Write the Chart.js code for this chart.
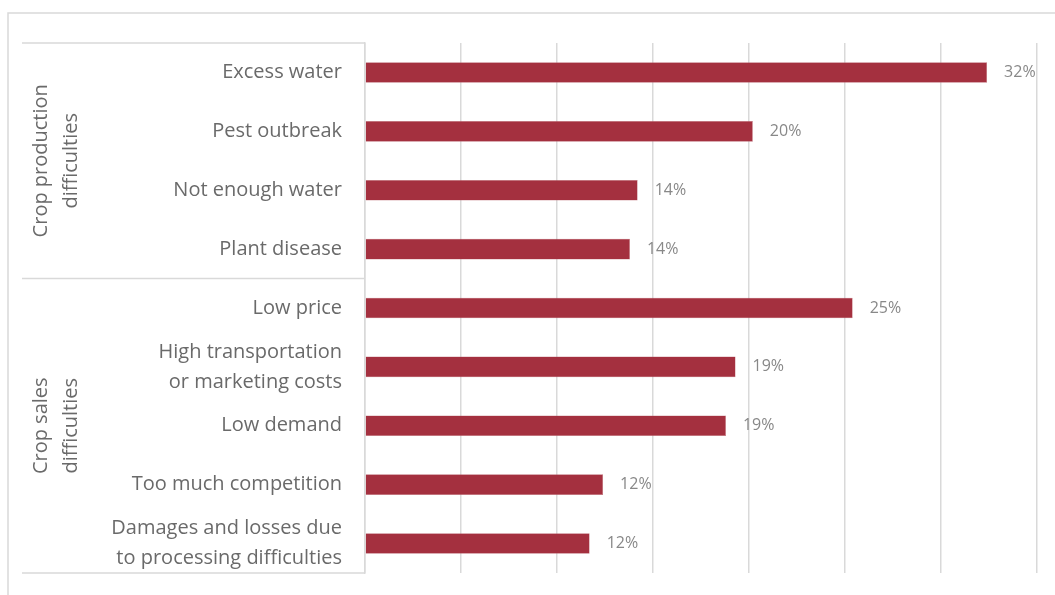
<!DOCTYPE html>
<html>
<head>
<meta charset="utf-8">
<script src="https://cdn.jsdelivr.net/npm/chart.js@4/dist/chart.umd.min.js"></script>
<style>
  html, body { margin: 0; padding: 0; background: #fff; }
  #wrap { position: relative; width: 1055px; height: 595px; }
</style>
</head>
<body>
<div id="wrap"><canvas id="chart" width="1055" height="595"></canvas></div>
<script>
// categories (top to bottom), multi-line labels as arrays
const categories = [
  'Excess water',
  'Pest outbreak',
  'Not enough water',
  'Plant disease',
  'Low price',
  ['High transportation', 'or marketing costs'],
  'Low demand',
  'Too much competition',
  ['Damages and losses due', 'to processing difficulties']
];
// share of respondents, percent
const values = [32.4, 20.2, 14.2, 13.8, 25.4, 19.3, 18.8, 12.4, 11.7];

// outer grouping of the categories
const groupLabels = [['Crop production', 'difficulties'], ['Crop sales', 'difficulties']];
const groupSizes = [4, 5];

const FONT = "'Open Sans', 'Noto Sans', sans-serif";
const TEXT = '#6a6a6a';
const LINE = '#d9d9d9';

// thin frame around the whole chart
const framePlugin = {
  id: 'frame',
  beforeDraw(chart) {
    const ctx = chart.ctx;
    ctx.save();
    ctx.strokeStyle = LINE;
    ctx.lineWidth = 1.5;
    ctx.beginPath();
    ctx.moveTo(8, chart.height);
    ctx.lineTo(8, 13);
    ctx.lineTo(chart.width, 13);
    ctx.stroke();
    ctx.restore();
  }
};

// group separators and rotated group titles left of the category labels
const groupPlugin = {
  id: 'groups',
  afterDraw(chart) {
    const ctx = chart.ctx;
    const y = chart.scales.y;
    const area = chart.chartArea;
    const x0 = 22;
    const half = (y.getPixelForValue(1) - y.getPixelForValue(0)) / 2;

    ctx.save();
    ctx.strokeStyle = LINE;
    ctx.lineWidth = 1.5;
    let start = 0;
    const bounds = [area.top];
    groupSizes.forEach(n => {
      start += n;
      bounds.push(y.getPixelForValue(start - 1) + half);
    });
    bounds.forEach(b => {
      ctx.beginPath();
      ctx.moveTo(x0, b);
      ctx.lineTo(area.left, b);
      ctx.stroke();
    });

    ctx.fillStyle = TEXT;
    ctx.font = '20px ' + FONT;
    ctx.textAlign = 'center';
    ctx.textBaseline = 'middle';
    groupLabels.forEach((lines, i) => {
      const cy = (bounds[i] + bounds[i + 1]) / 2;
      ctx.save();
      ctx.translate(56, cy);
      ctx.rotate(-Math.PI / 2);
      lines.forEach((t, k) => {
        ctx.fillText(t, 0, (k - (lines.length - 1) / 2) * 30);
      });
      ctx.restore();
    });
    ctx.restore();
  }
};

// value labels to the right of each bar
const valueLabelPlugin = {
  id: 'valueLabels',
  afterDatasetsDraw(chart) {
    const ctx = chart.ctx;
    const meta = chart.getDatasetMeta(0);
    ctx.save();
    ctx.fillStyle = '#888888';
    ctx.font = '16px ' + FONT;
    ctx.textAlign = 'left';
    ctx.textBaseline = 'middle';
    meta.data.forEach((bar, i) => {
      ctx.fillText(Math.round(values[i]) + '%', bar.x + 17, bar.y);
    });
    ctx.restore();
  }
};

new Chart(document.getElementById('chart'), {
  type: 'bar',
  data: {
    labels: categories,
    datasets: [{
      data: values,
      backgroundColor: '#a4303f',
      borderColor: '#c0707a',
      borderWidth: 0.5,
      categoryPercentage: 1,
      barPercentage: 0.35
    }]
  },
  options: {
    indexAxis: 'y',
    responsive: false,
    animation: false,
    layout: { padding: { top: 43, right: 18, bottom: 22, left: 0 } },
    plugins: {
      legend: { display: false },
      tooltip: { enabled: false }
    },
    scales: {
      x: {
        min: 0,
        max: 35,
        ticks: { display: false, stepSize: 5 },
        grid: { color: LINE, lineWidth: 1.5, drawTicks: false },
        border: { display: false },
        afterFit(s) { s.height = 0; }
      },
      y: {
        grid: { display: false, drawTicks: false },
        border: { display: true, color: LINE, width: 1.5 },
        ticks: {
          color: TEXT,
          padding: 23,
          autoSkip: false,
          font: { family: FONT, size: 20, lineHeight: 1.5 }
        },
        afterFit(s) {
          s.width = 365;
          s.paddingTop = 0;
          s.paddingBottom = 0;
        }
      }
    }
  },
  plugins: [framePlugin, groupPlugin, valueLabelPlugin]
});
</script>
</body>
</html>
